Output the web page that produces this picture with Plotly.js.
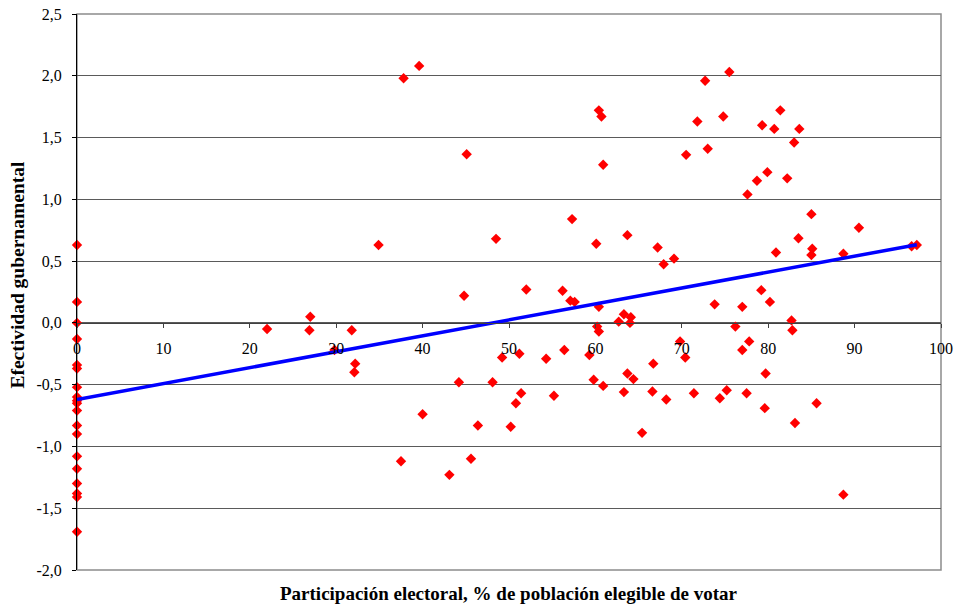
<!DOCTYPE html>
<html>
<head>
<meta charset="utf-8">
<script src="https://cdn.plot.ly/plotly-3.0.1.min.js"></script>
<style>html,body{margin:0;padding:0;background:#fff;}#chart{width:958px;height:606px;}</style>
</head>
<body>
<div id="chart"></div>
<script>
// Participación electoral (% población elegible)
const turnout = [
  0,0,0,0,0,0,0,0,0,0,0,0,0,0,0,0,0,0,0,
  39.6,37.8,45.1,34.9,48.5,44.8,52.0,
  27.0,22.0,26.9,31.8,29.8,32.2,32.1,
  49.2,51.2,44.2,48.1,51.4,50.8,40.0,46.4,50.2,37.5,45.6,43.1,
  60.4,60.7,60.9,72.7,75.5,71.8,74.8,79.3,80.7,81.4,83.6,83.0,70.5,73.0,79.9,78.7,82.2,77.6,
  57.3,60.1,63.7,67.2,67.9,69.1,80.9,85.0,83.5,85.1,85.0,90.5,88.7,96.6,97.2,
  79.2,56.2,57.1,57.6,60.4,73.8,77.0,80.2,
  63.3,64.1,62.7,64.0,82.7,82.8,76.2,60.2,60.4,69.8,77.8,56.4,54.3,77.0,59.3,70.4,66.7,
  79.7,63.7,64.4,59.8,60.9,55.2,63.3,66.6,68.2,71.4,74.4,75.2,77.5,79.6,85.6,83.1,65.4,88.7
];
// Efectividad gubernamental
const effectiveness = [
  0.63,0.17,0.0,-0.13,-0.34,-0.37,-0.52,-0.60,-0.63,-0.65,-0.71,-0.83,-0.90,-1.08,-1.18,-1.30,-1.38,-1.41,-1.69,
  2.08,1.98,1.365,0.63,0.68,0.22,0.27,
  0.05,-0.05,-0.06,-0.06,-0.22,-0.33,-0.40,
  -0.28,-0.25,-0.48,-0.48,-0.57,-0.65,-0.74,-0.83,-0.84,-1.12,-1.10,-1.23,
  1.72,1.67,1.28,1.96,2.03,1.63,1.67,1.60,1.57,1.72,1.57,1.46,1.36,1.41,1.22,1.15,1.17,1.04,
  0.84,0.64,0.71,0.61,0.475,0.52,0.57,0.88,0.685,0.60,0.55,0.77,0.56,0.62,0.63,
  0.265,0.26,0.18,0.17,0.13,0.15,0.13,0.17,
  0.07,0.046,0.01,0.0,0.02,-0.06,-0.03,-0.03,-0.07,-0.15,-0.15,-0.22,-0.29,-0.22,-0.26,-0.28,-0.33,
  -0.41,-0.41,-0.455,-0.46,-0.51,-0.59,-0.56,-0.555,-0.62,-0.57,-0.61,-0.545,-0.57,-0.69,-0.65,-0.81,-0.89,-1.39
];
// Linear trend
const trendIntercept = -0.62;
const trendSlope = 0.01289;

const yTickVals = [-2.0,-1.5,-1.0,-0.5,0.0,0.5,1.0,1.5,2.0,2.5];
const yTickText = ['-2,0','-1,5','-1,0','-0,5','0,0','0,5','1,0','1,5','2,0','2,5'];
const xTickVals = [0,10,20,30,40,50,60,70,80,90,100];
const xTickText = ['0','10','20','30','40','50','60','70','80','90','100'];

const xTitle = 'Participación electoral, % de población elegible de votar';
const yTitle = 'Efectividad gubernamental';

const xMin = Math.min(...turnout), xMax = Math.max(...turnout);
const trendX = [xMin, xMax];
const trendY = trendX.map(v => trendIntercept + trendSlope * v);

const FONT = "'Liberation Serif', 'Times New Roman', serif";

const traces = [
  {
    type: 'scatter', mode: 'markers', x: turnout, y: effectiveness,
    marker: {symbol: 'diamond', size: 8, color: '#FF0000', line: {width: 0}},
    cliponaxis: false, hoverinfo: 'x+y', showlegend: false
  },
  {
    type: 'scatter', mode: 'lines', x: trendX, y: trendY,
    line: {color: '#0000FF', width: 3.5}, cliponaxis: false, showlegend: false
  }
];

const yLo = -2.0, yHi = 2.5;
const layout = {
  width: 958, height: 606,
  margin: {l: 77, r: 17, t: 14, b: 36, pad: 0},
  paper_bgcolor: '#ffffff', plot_bgcolor: '#ffffff',
  font: {family: FONT, size: 16, color: '#000000'},
  showlegend: false,
  xaxis: {
    range: [0, 100], anchor: 'free', position: (0 - yLo) / (yHi - yLo),
    tickvals: xTickVals, ticktext: xTickText,
    ticks: 'outside', ticklen: 4, tickcolor: '#404040', tickwidth: 1,
    ticklabelstandoff: 6,
    showline: true, linecolor: '#404040', linewidth: 1.5,
    showgrid: false, zeroline: false,
    tickfont: {family: FONT, size: 16, color: '#000000'}
  },
  yaxis: {
    range: [yLo, yHi], tickvals: yTickVals, ticktext: yTickText,
    ticks: 'outside', ticklen: 4, tickcolor: '#000000', tickwidth: 1,
    ticklabelstandoff: 7,
    showline: true, linecolor: '#000000', linewidth: 1,
    showgrid: true, gridcolor: '#5a5a5a', gridwidth: 1,
    zeroline: false,
    tickfont: {family: FONT, size: 16, color: '#000000'}
  },
  shapes: [
    {type: 'rect', xref: 'paper', yref: 'paper', x0: 0, x1: 1, y0: 0, y1: 1,
     line: {color: '#8c8c8c', width: 1.5}, fillcolor: 'rgba(0,0,0,0)', layer: 'below'}
  ],
  annotations: [
    {text: '<b>' + xTitle + '</b>', xref: 'paper', yref: 'paper', x: 0.5, y: -0.0425,
     xanchor: 'center', yanchor: 'middle', showarrow: false,
     font: {family: FONT, size: 19, color: '#000000'}},
    {text: '<b>' + yTitle + '</b>', xref: 'paper', yref: 'paper', x: -0.069, y: 0.532,
     xanchor: 'center', yanchor: 'middle', showarrow: false, textangle: -90,
     font: {family: FONT, size: 19.5, color: '#000000'}}
  ]
};

Plotly.newPlot('chart', traces, layout, {displayModeBar: false, staticPlot: true});
</script>
</body>
</html>
